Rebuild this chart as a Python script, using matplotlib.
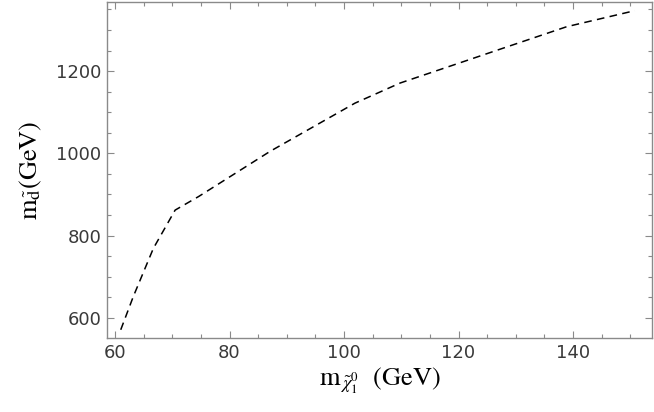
import matplotlib
matplotlib.use("Agg")
import matplotlib.pyplot as plt
from matplotlib.ticker import MultipleLocator

# Data
m_neutralino = [61.0, 63.2, 66.7, 70.5, 74.6, 87.1, 101.9, 109.8, 120.0, 127.2, 138.9, 150.8]
m_sdown = [571, 652, 769, 862, 895, 1005, 1122, 1171, 1219, 1253, 1308, 1347]

x_ticks = [60, 80, 100, 120, 140]
y_ticks = [600, 800, 1000, 1200]

plt.rcParams['mathtext.fontset'] = 'stix'

fig = plt.figure(figsize=(6.54, 4.12), dpi=100)
ax = fig.add_axes([0.1636, 0.1796, 0.8334, 0.8155])

ax.plot(m_neutralino, m_sdown, color='black', lw=1.1, dashes=(5, 3.5))

ax.set_xlim(58.6, 153.8)
ax.set_ylim(551, 1368)
ax.set_xticks(x_ticks)
ax.set_yticks(y_ticks)
ax.xaxis.set_minor_locator(MultipleLocator(5))
ax.yaxis.set_minor_locator(MultipleLocator(50))

gray = '#8a8a8a'
for s in ax.spines.values():
    s.set_color(gray)
    s.set_linewidth(1.0)
ax.tick_params(which='both', direction='in', top=True, right=True, color=gray, width=0.8)
ax.tick_params(which='major', length=5, labelsize=13, labelcolor='#3a3a3a', pad=4)
ax.tick_params(which='minor', length=3)
for lab in ax.get_xticklabels() + ax.get_yticklabels():
    lab.set_family('DejaVu Sans')

ax.set_xlabel(r'$\mathrm{m}_{\,\tilde{\chi}_1^0}$  (GeV)', fontsize=19, family='STIXGeneral', labelpad=3)
ax.set_ylabel(r'$\mathrm{m}_{\tilde{\mathrm{d}}}$(GeV)', fontsize=19, family='STIXGeneral', labelpad=9)

fig.savefig('out.png', dpi=100)
